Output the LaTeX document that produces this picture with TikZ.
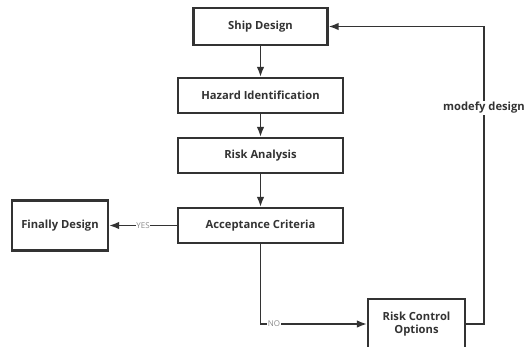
\documentclass[tikz,border=0pt]{standalone}
\usepackage{fontspec}
\setmainfont{Open Sans}
\usetikzlibrary{arrows.meta}
\definecolor{boxc}{HTML}{333333}
\definecolor{txtc}{HTML}{333333}
\definecolor{tagc}{HTML}{8A8A8A}
\begin{document}
\begin{tikzpicture}[x=1pt,y=-1pt,
  box/.style={draw=boxc, line width=2.2pt, fill=white, text=txtc, align=center,
    inner sep=0pt, font=\bfseries\fontsize{11.2}{13.5}\selectfont},
  conn/.style={draw=boxc, line width=1.5pt, -{Latex[length=10pt,width=7.5pt]}},
  tag/.style={font=\fontsize{8}{9}\selectfont, text=tagc, fill=white, inner sep=0.6pt},
  modtag/.style={font=\bfseries\fontsize{11.2}{13}\selectfont, text=txtc, fill=white, inner sep=1pt}]
\useasboundingbox (0,0) rectangle (524,347);
\node[box, minimum width=134, minimum height=37] (ship) at (260.5,26.5) {Ship Design};
\node[box, minimum width=165, minimum height=35] (hazard) at (260.5,95.5) {Hazard Identification};
\node[box, minimum width=165, minimum height=35] (risk) at (260.5,155.5) {Risk Analysis};
\node[box, minimum width=165, minimum height=35] (accept) at (260.5,225.5) {Acceptance Criteria};
\node[box, minimum width=96, minimum height=50] (final) at (60,225.5) {Finally Design};
\node[box, minimum width=97, minimum height=50] (rco) at (416.5,324) {Risk Control\\Options};
\coordinate (fbx) at (484,100);
\draw[conn] (ship) -- (hazard);
\draw[conn] (hazard) -- (risk);
\draw[conn] (risk) -- (accept);
\draw[conn] (accept.west) -- node[tag] (yes) {YES} (final.east);
\draw[conn] (accept.south) |- (rco.west);
\node[tag] (no) at (274,324) {NO};
\draw[conn] (rco.east) -- (rco.east -| fbx) |- (ship.east);
\node[modtag] (mod) at (484,108) {modefy design};
\end{tikzpicture}
\end{document}
